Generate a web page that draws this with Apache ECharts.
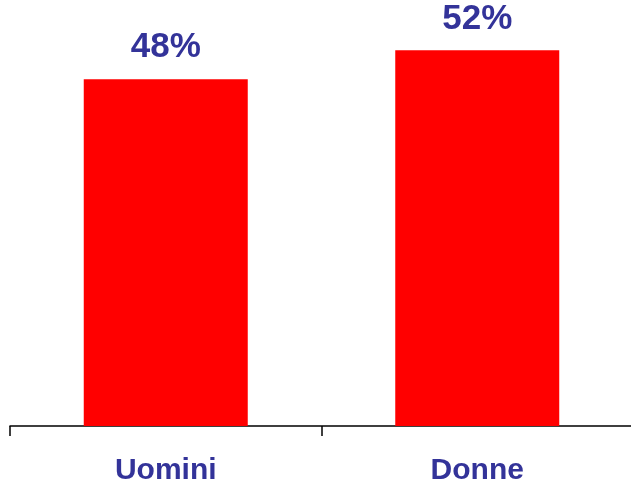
<!DOCTYPE html>
<html>
<head>
<meta charset="utf-8">
<script src="https://cdn.jsdelivr.net/npm/echarts@6/dist/echarts.min.js"></script>
<style>
	html, body { margin: 0; padding: 0; background: #fff; overflow: hidden; }
	/* un po' piu largo della finestra: l'ultima tacca resta fuori */
	#chartBox { width: 634px; height: 486px; }
</style>
</head>
<body>
<div id="chartBox"></div>
<script>
	// dati
	var categories = ['Uomini', 'Donne'];
	var values = [48, 52];

	var chart = echarts.init(document.getElementById('chartBox'));
	var option = {
		animation: false,
		grid: { left: 10, right: 1, top: 7, bottom: 60 },
		xAxis: {
			type: 'category',
			data: categories,
			axisLine: { lineStyle: { color: '#000', width: 1.5 } },
			axisTick: { show: true, length: 10, lineStyle: { color: '#000', width: 1.5 } },
			axisLabel: {
				color: '#333399',
				fontFamily: 'Liberation Sans, Arial, sans-serif',
				fontWeight: 'bold',
				fontSize: 30,
				margin: 30
			}
		},
		yAxis: {
			type: 'value',
			min: 0,
			max: 58,
			show: false,
			splitLine: { show: false }
		},
		series: [{
			type: 'bar',
			data: values,
			barWidth: 164,
			itemStyle: { color: '#ff0000' },
			label: {
				show: true,
				position: 'top',
				distance: 14,
				formatter: '{c}%',
				color: '#333399',
				fontFamily: 'Liberation Sans, Arial, sans-serif',
				fontWeight: 'bold',
				fontSize: 35
			}
		}]
	};
	chart.setOption(option);
</script>
</body>
</html>
